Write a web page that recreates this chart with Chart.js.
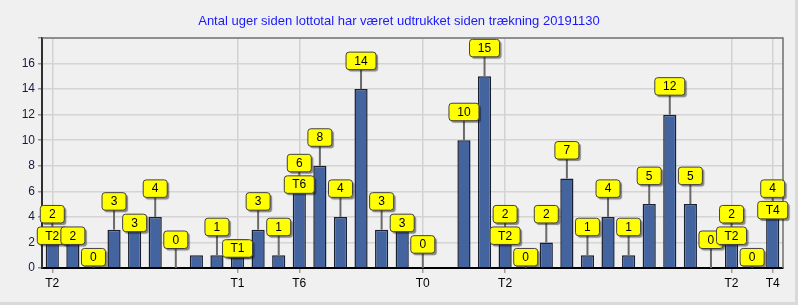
<!DOCTYPE html>
<html>
<head>
<meta charset="utf-8">
<script src="https://cdn.jsdelivr.net/npm/chart.js@4.4.1/dist/chart.umd.min.js"></script>
<style>
  body { margin: 0; background: #f0f0f0; }
  #frame { width: 798px; height: 305px; background: #d9d9d9; }
  #chart { display: block; background: #f0f0f0; }
</style>
</head>
<body>
<div id="frame"><canvas id="chart" width="795" height="302"></canvas></div>
<script>
// weeks since each number was drawn (one bar per lotto number)
const weeks = [2, 2, 0, 3, 3, 4, 0, 1, 1, 1, 3, 1, 6, 8, 4, 14, 3, 3,
               0, 0, 10, 15, 2, 0, 2, 7, 1, 4, 1, 5, 12, 5, 0, 2, 0, 4];
// labels under the axis
const tickLabels = ['T2', '', '', '', '', '', '', '', '', 'T1', '', '', 'T6', '', '', '', '', '',
                    'T0', '', '', '', 'T2', '', '', '', '', '', '', '', '', '', '', 'T2', '', 'T4'];
// tags shown on the bars
const barTags = ['T2', '', '', '', '', '', '', '', '', 'T1', '', '', 'T6', '', '', '', '', '',
                 '', '', '', '', 'T2', '', '', '', '', '', '', '', '', '', '', 'T2', '', 'T4'];
const yTicks = [0, 2, 4, 6, 8, 10, 12, 14, 16];
const titleText = 'Antal uger siden lottotal har været udtrukket siden trækning 20191130';

const FONT = 'Arial, "Liberation Sans", sans-serif';

function drawBox(ctx, box, text) {
  ctx.save();
  ctx.shadowColor = 'rgba(0,0,0,0.45)';
  ctx.shadowOffsetX = 2;
  ctx.shadowOffsetY = 2;
  ctx.shadowBlur = 1;
  ctx.beginPath();
  ctx.roundRect(box.x0, box.y0, box.x1 - box.x0, box.y1 - box.y0, 3);
  ctx.fillStyle = '#ffff00';
  ctx.fill();
  ctx.restore();
  ctx.beginPath();
  ctx.roundRect(box.x0, box.y0, box.x1 - box.x0, box.y1 - box.y0, 3);
  ctx.lineWidth = 1;
  ctx.strokeStyle = '#404040';
  ctx.stroke();
  ctx.fillStyle = '#000';
  ctx.textAlign = 'center';
  ctx.textBaseline = 'middle';
  ctx.fillText(text, (box.x0 + box.x1) / 2, (box.y0 + box.y1) / 2 + 0.5);
}

function overlaps(a, b) {
  return a.x0 < b.x1 && b.x0 < a.x1 && a.y0 < b.y1 && b.y0 < a.y1;
}

// yellow callouts, moved down when they hit the previous one
const calloutPlugin = {
  id: 'callouts',
  afterDatasetsDraw(chart) {
    const ctx = chart.ctx;
    const meta = chart.getDatasetMeta(0);
    const base = chart.scales.y.getPixelForValue(0);
    const h = 17.5;
    const placed = [];
    ctx.save();
    ctx.font = '12px ' + FONT;
    meta.data.forEach((bar, i) => {
      const x = bar.x, top = bar.y;
      const text = String(weeks[i]);
      const w = Math.round(ctx.measureText(text).width) + 17;
      let box = {x0: x - w / 2, x1: x + w / 2, y1: top - 19.5};
      box.y0 = box.y1 - h;
      for (let k = placed.length - 1; k >= 0; k--) {
        if (overlaps(box, placed[k])) {
          box.y0 = placed[k].y1 + 4;
          box.y1 = box.y0 + h;
          break;
        }
      }
      if (box.y1 <= base + 1) {
        if (box.y1 < top) {
          ctx.beginPath();
          ctx.moveTo(x, box.y1);
          ctx.lineTo(x, top);
          ctx.lineWidth = 2;
          ctx.strokeStyle = '#6a6a6a';
          ctx.stroke();
        }
        drawBox(ctx, box, text);
        placed.push(box);
      }
      if (barTags[i]) {
        const tw = Math.round(ctx.measureText(barTags[i]).width) + 16;
        const tag = {x0: x - tw / 2, x1: x + tw / 2, y1: top + 2};
        tag.y0 = tag.y1 - h;
        drawBox(ctx, tag, barTags[i]);
        placed.push(tag);
      }
    });
    ctx.restore();
  }
};

// grey top and right edge of the plot
const framePlugin = {
  id: 'frame',
  beforeDatasetsDraw(chart) {
    const {ctx, chartArea: a} = chart;
    ctx.save();
    ctx.beginPath();
    ctx.moveTo(a.left, a.top);
    ctx.lineTo(a.right, a.top);
    ctx.lineTo(a.right, a.bottom);
    ctx.lineWidth = 1.5;
    ctx.strokeStyle = '#707070';
    ctx.stroke();
    ctx.restore();
  }
};

new Chart(document.getElementById('chart'), {
  type: 'bar',
  data: {
    labels: tickLabels,
    datasets: [{
      data: weeks,
      backgroundColor: '#4464a0',
      borderColor: '#1a2030',
      borderWidth: 1.5,
      borderSkipped: 'start',
      barPercentage: 0.64,
      categoryPercentage: 1
    }]
  },
  options: {
    responsive: false,
    animation: false,
    events: [],
    layout: {padding: {left: 15, right: 12, top: 0, bottom: 0}},
    plugins: {
      legend: {display: false},
      tooltip: {enabled: false},
      title: {
        display: true,
        text: titleText,
        color: '#1a1aff',
        font: {family: FONT, size: 13, weight: 'normal'},
        padding: {top: 14, bottom: 8.4}
      }
    },
    scales: {
      x: {
        offset: true,
        afterFit: (s) => { s.height = 34; },
        grid: {
          offset: false,
          lineWidth: 1.5,
          color: (c) => tickLabels[c.index] ? '#d2d2d2' : 'transparent',
          tickColor: (c) => tickLabels[c.index] ? '#a0a0a0' : 'transparent',
          tickLength: 5
        },
        border: {display: true, color: '#000', width: 2},
        ticks: {
          autoSkip: false,
          maxRotation: 0,
          padding: 3,
          color: '#000',
          font: {family: FONT, size: 12},
          callback: (v, i) => tickLabels[i]
        }
      },
      y: {
        min: 0,
        max: 18,
        afterFit: (s) => { s.width = 27; },
        grid: {
          lineWidth: 1.5,
          color: (c) => yTicks.includes(c.tick.value) && c.tick.value > 0 ? '#d4d4d4' : 'transparent',
          tickColor: '#909090',
          tickLength: 4
        },
        border: {display: true, color: '#303030', width: 2},
        ticks: {
          stepSize: 1,
          padding: 3,
          color: '#1a1a40',
          font: {family: FONT, size: 12},
          callback: (v) => yTicks.includes(v) ? v : ''
        }
      }
    }
  },
  plugins: [framePlugin, calloutPlugin]
});
</script>
</body>
</html>
